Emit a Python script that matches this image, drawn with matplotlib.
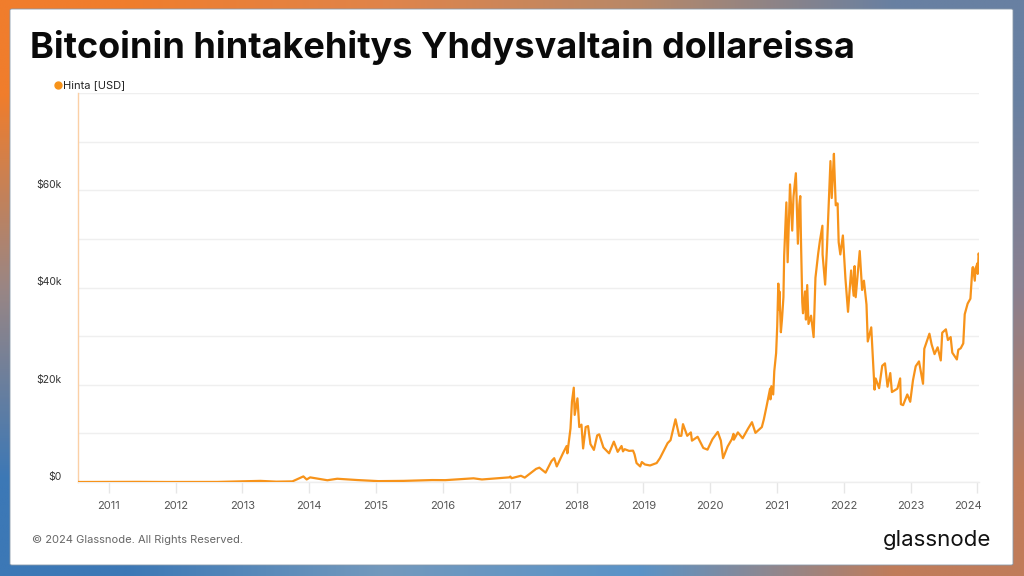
import numpy as np
import pandas as pd
import matplotlib
matplotlib.use("Agg")
import matplotlib.pyplot as plt
import matplotlib.transforms as mtransforms
from matplotlib.patches import FancyBboxPatch
from matplotlib.lines import Line2D
from matplotlib.colors import to_rgb

plt.rcParams['font.family'] = ['Inter', 'DejaVu Sans']

# BTC price (USD)
dates = [
    "2010-07-17", "2011-06-08", "2011-11-18", "2012-08-16", "2013-04-09", "2013-07-05",
    "2013-10-01", "2013-11-30", "2013-12-18", "2014-01-06", "2014-04-10", "2014-06-03",
    "2014-09-22", "2015-01-14", "2015-06-01", "2015-11-04", "2016-01-15", "2016-06-17",
    "2016-08-02", "2016-12-31", "2017-01-04", "2017-01-11", "2017-03-03", "2017-03-24",
    "2017-05-25", "2017-06-12", "2017-07-16", "2017-08-17", "2017-09-01", "2017-09-15",
    "2017-10-20", "2017-11-08", "2017-11-12", "2017-11-29", "2017-12-07", "2017-12-17",
    "2017-12-22", "2018-01-06", "2018-01-16", "2018-01-28", "2018-02-06", "2018-02-20",
    "2018-03-05", "2018-03-18", "2018-04-06", "2018-04-24", "2018-05-05", "2018-05-28",
    "2018-06-28", "2018-07-24", "2018-08-14", "2018-09-04", "2018-09-12", "2018-09-21",
    "2018-10-15", "2018-11-06", "2018-11-14", "2018-11-25", "2018-12-15", "2018-12-24",
    "2019-01-10", "2019-02-07", "2019-03-15", "2019-04-02", "2019-05-14", "2019-05-30",
    "2019-06-26", "2019-07-16", "2019-07-28", "2019-08-06", "2019-08-29", "2019-09-18",
    "2019-09-24", "2019-10-25", "2019-11-25", "2019-12-18", "2020-01-14", "2020-02-12",
    "2020-02-29", "2020-03-12", "2020-04-06", "2020-04-29", "2020-05-08", "2020-05-10",
    "2020-06-01", "2020-06-27", "2020-07-27", "2020-08-17", "2020-09-05", "2020-10-10",
    "2020-10-21", "2020-11-05", "2020-11-24", "2020-11-26", "2020-12-01", "2020-12-11",
    "2020-12-17", "2020-12-27", "2021-01-02", "2021-01-08", "2021-01-11", "2021-01-14",
    "2021-01-22", "2021-01-28", "2021-02-05", "2021-02-09", "2021-02-21", "2021-02-28",
    "2021-03-13", "2021-03-25", "2021-04-01", "2021-04-14", "2021-04-25", "2021-05-03",
    "2021-05-08", "2021-05-12", "2021-05-19", "2021-05-23", "2021-06-03", "2021-06-08",
    "2021-06-15", "2021-06-22", "2021-07-06", "2021-07-20", "2021-07-30", "2021-08-14",
    "2021-08-23", "2021-09-06", "2021-09-07", "2021-09-21", "2021-10-01", "2021-10-15",
    "2021-10-20", "2021-10-27", "2021-11-08", "2021-11-10", "2021-11-18", "2021-11-28",
    "2021-12-04", "2021-12-13", "2021-12-27", "2022-01-10", "2022-01-24", "2022-02-10",
    "2022-02-24", "2022-03-01", "2022-03-07", "2022-03-29", "2022-04-11", "2022-04-21",
    "2022-05-05", "2022-05-12", "2022-05-31", "2022-06-13", "2022-06-18", "2022-06-24",
    "2022-07-13", "2022-07-30", "2022-08-14", "2022-08-28", "2022-09-12", "2022-09-21",
    "2022-10-21", "2022-11-05", "2022-11-09", "2022-11-21", "2022-12-14", "2022-12-30",
    "2023-01-14", "2023-01-29", "2023-02-16", "2023-03-10", "2023-03-17", "2023-04-14",
    "2023-04-26", "2023-05-12", "2023-05-29", "2023-06-15", "2023-06-23", "2023-07-13",
    "2023-07-24", "2023-08-08", "2023-08-17", "2023-09-11", "2023-09-19", "2023-10-02",
    "2023-10-16", "2023-10-24", "2023-11-09", "2023-11-24", "2023-12-05", "2023-12-08",
    "2023-12-18", "2023-12-22", "2024-01-02", "2024-01-03", "2024-01-08", "2024-01-10",
]
price = [
    0.05, 30, 2.2, 13, 230, 70,
    125, 1150, 520, 950, 360, 670,
    400, 180, 230, 400, 380, 760,
    520, 960, 1130, 780, 1280, 900,
    2700, 2950, 1920, 4300, 4900, 3200,
    6000, 7400, 5900, 11000, 16500, 19400,
    13800, 17200, 11300, 11800, 6900, 11300,
    11500, 7800, 6600, 9600, 9800, 7100,
    5900, 8300, 6200, 7400, 6300, 6750,
    6400, 6450, 5700, 3900, 3200, 4100,
    3600, 3400, 3900, 4900, 8000, 8600,
    12900, 9500, 9500, 11900, 9500, 10200,
    8500, 9300, 7000, 6650, 8800, 10300,
    8500, 4900, 7300, 8800, 9900, 8700,
    10200, 9000, 11000, 12300, 10100, 11300,
    12900, 15600, 19200, 17000, 19700, 18000,
    22800, 26500, 32000, 40800, 35500, 39200,
    30800, 33400, 38000, 46500, 57500, 45200,
    61200, 51700, 58700, 63500, 49000, 57000,
    58800, 49500, 37000, 34700, 39200, 33400,
    40500, 32500, 34200, 29800, 42000, 47000,
    49500, 52700, 46800, 40600, 48200, 61500,
    66000, 58400, 67500, 65000, 56900, 57300,
    49300, 46800, 50700, 41800, 35000, 43500,
    38300, 44400, 38000, 47500, 39500, 41400,
    36500, 28900, 31800, 22500, 19000, 21300,
    19300, 23900, 24400, 19600, 22400, 18500,
    19200, 21300, 16000, 15800, 18000, 16500,
    20900, 23800, 24800, 20200, 27400, 30500,
    28300, 26300, 27700, 25000, 30700, 31400,
    29200, 29800, 26600, 25200, 27200, 27500,
    28500, 34500, 36700, 37700, 44000, 44200,
    41400, 43900, 45000, 42800, 47000, 46600,
]
years = list(range(2011, 2025))
y_ticks = [0, 10000, 20000, 30000, 40000, 50000, 60000, 70000, 80000]
y_labels = ["$0", "", "$20k", "", "$40k", "", "$60k", "", ""]

W, H = 1024, 576
fig = plt.figure(figsize=(W / 100, H / 100), dpi=100)

# gradient background
bg = fig.add_axes([0, 0, 1, 1], zorder=-10)
corner_rows = [
    ["#f07d2c", "#e0844a", "#b88868", "#6880a2"],
    ["#9a8684", "#a88c80", "#9a8a8e", "#8a8090"],
    ["#3c78b6", "#7399bd", "#5a93c8", "#c07c5a"],
]
grid = np.array([[to_rgb(c) for c in row] for row in corner_rows])
bg.imshow(grid, extent=[0, 1, 0, 1], aspect='auto', interpolation='bilinear')
bg.set_axis_off()

# white card
card = FancyBboxPatch((10 / W, 1 - 565 / H), 1003 / W, 556 / H,
                      boxstyle="round,pad=0,rounding_size=0.002",
                      transform=fig.transFigure, facecolor="white",
                      edgecolor="#8899aa", linewidth=0.6, zorder=-5)
fig.patches.append(card)

ax_l, ax_r, ax_t, ax_b = 78, 979, 93, 482
ax = fig.add_axes([ax_l / W, 1 - ax_b / H, (ax_r - ax_l) / W, (ax_b - ax_t) / H])
ax.set_facecolor("none")

d = pd.to_datetime(dates)
ax.plot(d, price, color="#f7931a", lw=1.6, solid_joinstyle="round", zorder=3)

ax.set_xlim(pd.Timestamp("2010-07-17"), pd.Timestamp("2024-01-10"))
ax.set_ylim(0, 80000)

ax.set_yticks(y_ticks)
ax.set_yticklabels(y_labels)
ax.yaxis.grid(True, color="#efefef", lw=1)
ax.set_axisbelow(True)
ax.tick_params(axis="y", length=0, pad=12, labelsize=7.5, labelcolor="#333333")
for lbl in ax.get_yticklabels():
    lbl.set_va("bottom")

ax.set_xticks([pd.Timestamp(f"{y}-01-01") for y in years])
ax.set_xticklabels([str(y) for y in years])
ax.tick_params(axis="x", length=8, width=1, color="#e6e6e6", pad=6,
               labelsize=8, labelcolor="#555555")
last = ax.get_xticklabels()[-1]
last.set_transform(last.get_transform() + mtransforms.ScaledTranslation(-9 / 100, 0, fig.dpi_scale_trans))

for s in ["top", "right"]:
    ax.spines[s].set_visible(False)
ax.spines["left"].set_color("#fbd0a6")
ax.spines["left"].set_linewidth(1)
ax.spines["bottom"].set_color("#eeeeee")
ax.spines["bottom"].set_linewidth(1)

# title and annotations
fig.text(30 / W, 1 - 58 / H, "Bitcoinin hintakehitys Yhdysvaltain dollareissa",
         fontsize=26, fontweight="bold", color="#0a0a0a", va="baseline")
fig.add_artist(Line2D([58 / W], [1 - 85 / H], marker="o", markersize=5,
                      color="#f7931a", transform=fig.transFigure))
fig.text(63 / W, 1 - 85 / H, "Hinta [USD]", fontsize=8, color="#222222", va="center")
fig.text(32 / W, 1 - 540 / H, "© 2024 Glassnode. All Rights Reserved.",
         fontsize=8, color="#666666", va="center")
fig.text(991 / W, 1 - 540 / H, "glassnode", fontsize=16, color="#111111",
         va="center", ha="right")

fig.savefig("out.png", dpi=100)
